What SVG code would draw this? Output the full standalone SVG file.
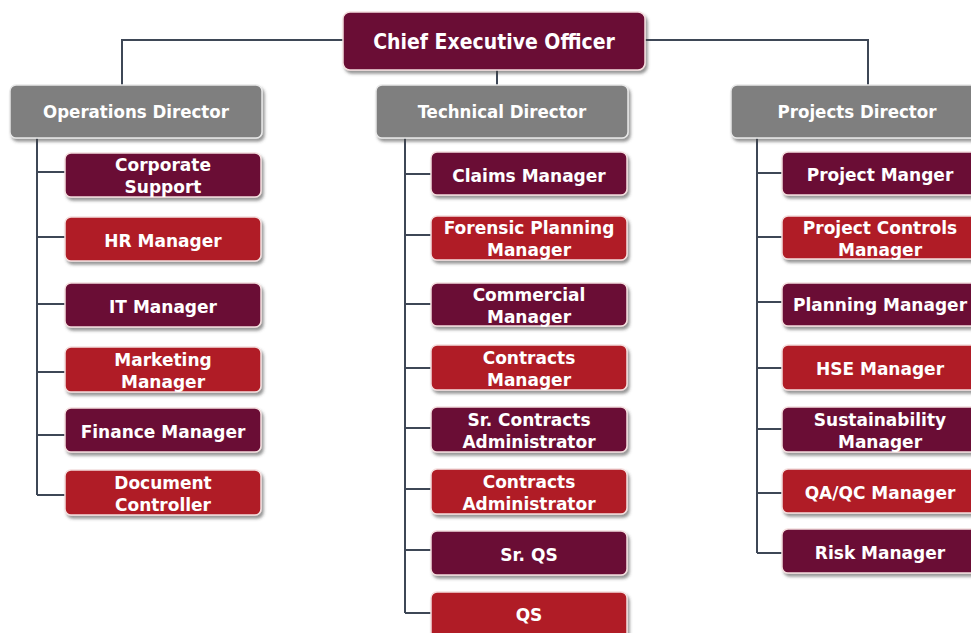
<svg xmlns="http://www.w3.org/2000/svg" width="971" height="633" viewBox="0 0 971 633">
<defs>
<filter id="sh" x="-10%" y="-20%" width="130%" height="160%">
<feDropShadow dx="2" dy="3" stdDeviation="1.5" flood-color="#404040" flood-opacity="0.55"/>
</filter>
<style>
.box{stroke:#f4dede;stroke-width:1.5;filter:url(#sh)}
.mar{fill:#6a0b34}
.red{fill:#b01f25}
.dir{fill:#7f7f7f;stroke:#e8e8e8}
.t{font-family:"DejaVu Sans",Verdana,sans-serif;font-weight:bold;font-size:17px;fill:#fff;text-anchor:middle}
.h{font-family:"DejaVu Sans Condensed","DejaVu Sans",sans-serif;font-stretch:condensed;font-weight:bold;fill:#fff;text-anchor:middle}
.c{fill:none;stroke:#3e4756;stroke-width:2}
</style>
</defs>
<rect width="971" height="633" fill="#ffffff"/>
<g id="connectors">
<path class="c" d="M343 40H122V86M645 40H868V86M497 70V86"/>
<path class="c" d="M37 138V495M37 172H65M37 237H65M37 304H65M37 372H65M37 435H65M37 495H65"/>
<path class="c" d="M405 138V613M405 174H431M405 235H431M405 304H431M405 368H431M405 428H431M405 489H431M405 550H431M405 613H431"/>
<path class="c" d="M757 138V553M757 173H782M757 237H782M757 302H782M757 368H782M757 429H782M757 493H782M757 553H782"/>
</g>
<g id="ceo"><rect class="box mar" x="343" y="12" width="302" height="58" rx="7"/><text class="h" font-size="21" x="494" y="49">Chief Executive Officer</text></g>
<g id="ops-director"><rect class="box dir" x="10" y="85" width="252" height="53" rx="6"/><text class="h" font-size="18.5" x="136" y="118">Operations Director</text></g>
<g id="tech-director"><rect class="box dir" x="376" y="85" width="252" height="53" rx="6"/><text class="h" font-size="18.5" x="502" y="118">Technical Director</text></g>
<g id="proj-director"><rect class="box dir" x="731" y="85" width="252" height="53" rx="6"/><text class="h" font-size="18.5" x="857" y="118">Projects Director</text></g>

<g id="corporate-support"><rect class="box mar" x="65" y="153" width="196" height="44" rx="6"/><text class="t" x="163" y="171">Corporate</text><text class="t" x="163" y="193">Support</text></g>
<g id="hr-manager"><rect class="box red" x="65" y="217" width="196" height="44" rx="6"/><text class="t" x="163" y="247">HR Manager</text></g>
<g id="it-manager"><rect class="box mar" x="65" y="283" width="196" height="44" rx="6"/><text class="t" x="163" y="313">IT Manager</text></g>
<g id="marketing-manager"><rect class="box red" x="65" y="347" width="196" height="45" rx="6"/><text class="t" x="163" y="366">Marketing</text><text class="t" x="163" y="388">Manager</text></g>
<g id="finance-manager"><rect class="box mar" x="65" y="408" width="196" height="44" rx="6"/><text class="t" x="163" y="438">Finance Manager</text></g>
<g id="document-controller"><rect class="box red" x="65" y="470" width="196" height="45" rx="6"/><text class="t" x="163" y="489">Document</text><text class="t" x="163" y="511">Controller</text></g>

<g id="claims-manager"><rect class="box mar" x="431" y="152" width="196" height="43" rx="6"/><text class="t" x="529" y="182">Claims Manager</text></g>
<g id="forensic-planning-manager"><rect class="box red" x="431" y="216" width="196" height="44" rx="6"/><text class="t" x="529" y="234">Forensic Planning</text><text class="t" x="529" y="256">Manager</text></g>
<g id="commercial-manager"><rect class="box mar" x="431" y="283" width="196" height="43" rx="6"/><text class="t" x="529" y="301">Commercial</text><text class="t" x="529" y="323">Manager</text></g>
<g id="contracts-manager"><rect class="box red" x="431" y="345" width="196" height="45" rx="6"/><text class="t" x="529" y="364">Contracts</text><text class="t" x="529" y="386">Manager</text></g>
<g id="sr-contracts-administrator"><rect class="box mar" x="431" y="407" width="196" height="45" rx="6"/><text class="t" x="529" y="426">Sr. Contracts</text><text class="t" x="529" y="448">Administrator</text></g>
<g id="contracts-administrator"><rect class="box red" x="431" y="469" width="196" height="45" rx="6"/><text class="t" x="529" y="488">Contracts</text><text class="t" x="529" y="510">Administrator</text></g>
<g id="sr-qs"><rect class="box mar" x="431" y="531" width="196" height="44" rx="6"/><text class="t" x="529" y="561">Sr. QS</text></g>
<g id="qs"><rect class="box red" x="431" y="592" width="196" height="50" rx="6"/><text class="t" x="529" y="621">QS</text></g>

<g id="project-manger"><rect class="box mar" x="782" y="152" width="196" height="43" rx="6"/><text class="t" x="880" y="181">Project Manger</text></g>
<g id="project-controls-manager"><rect class="box red" x="782" y="216" width="196" height="43" rx="6"/><text class="t" x="880" y="234">Project Controls</text><text class="t" x="880" y="256">Manager</text></g>
<g id="planning-manager"><rect class="box mar" x="782" y="283" width="196" height="43" rx="6"/><text class="t" x="880" y="311">Planning Manager</text></g>
<g id="hse-manager"><rect class="box red" x="782" y="345" width="196" height="45" rx="6"/><text class="t" x="880" y="375">HSE Manager</text></g>
<g id="sustainability-manager"><rect class="box mar" x="782" y="407" width="196" height="45" rx="6"/><text class="t" x="880" y="426">Sustainability</text><text class="t" x="880" y="448">Manager</text></g>
<g id="qa-qc-manager"><rect class="box red" x="782" y="469" width="196" height="44" rx="6"/><text class="t" x="880" y="499">QA/QC Manager</text></g>
<g id="risk-manager"><rect class="box mar" x="782" y="529" width="196" height="44" rx="6"/><text class="t" x="880" y="559">Risk Manager</text></g>
</svg>
